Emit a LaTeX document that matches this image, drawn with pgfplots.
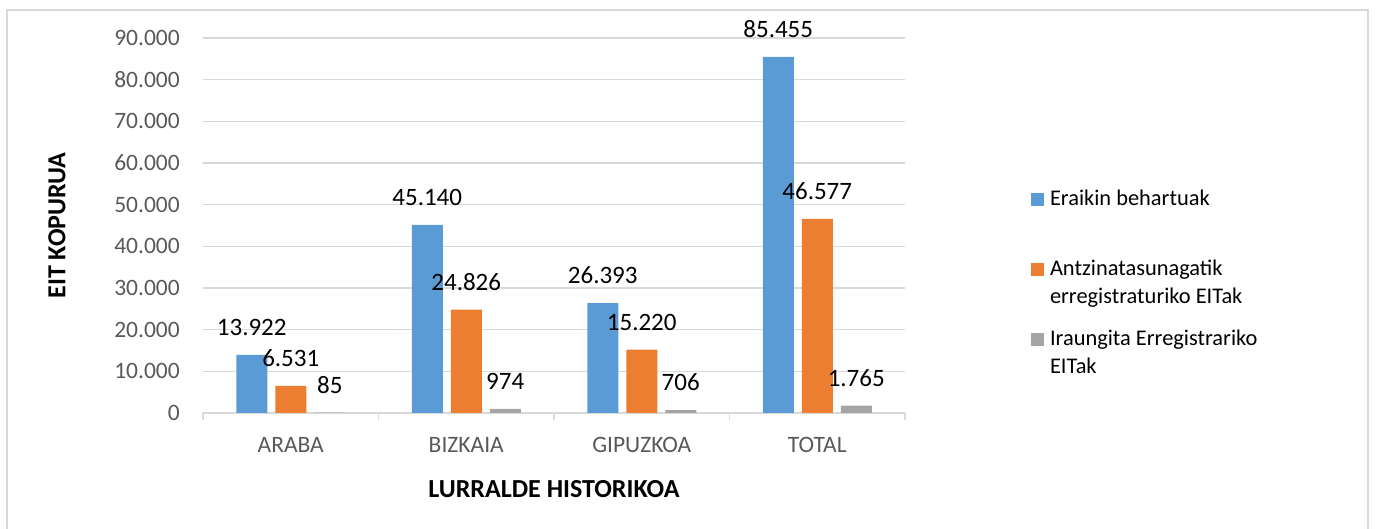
\documentclass[border=0pt]{standalone}
\usepackage{fontspec}
\setmainfont{Carlito}
\usepackage{pgfplots}
\pgfplotsset{compat=1.18}
\definecolor{cblue}{HTML}{5B9BD5}
\definecolor{corange}{HTML}{ED7D31}
\definecolor{cgray}{HTML}{A5A5A5}
\definecolor{tickgray}{HTML}{595959}
\definecolor{gridgray}{HTML}{D9D9D9}
\begin{document}
\begin{tikzpicture}[x=1pt,y=1pt]
\path[use as bounding box] (0,0) rectangle (1376,529);
\draw[gridgray, line width=1.5pt] (7,-5) -- (7,519) -- (1368,519) -- (1368,-5);
\begin{axis}[
  at={(203pt,116pt)}, anchor=south west,
  scale only axis, width=702pt, height=375pt,
  ybar=8pt, bar width=31pt,
  xmin=-0.5, xmax=3.5, ymin=0, ymax=90000,
  xtick={0,1,2,3},
  xticklabels={ARABA,BIZKAIA,GIPUZKOA,TOTAL},
  minor xtick={-0.5,0.5,1.5,2.5,3.5},
  ytick={0,10000,...,90000},
  major tick length=0pt, minor tick length=7pt, tick align=outside,
  axis x line*=bottom, axis y line*=left,
  y axis line style={draw=none},
  x axis line style={draw=gridgray, line width=1.5pt},
  minor x tick style={draw=gridgray, line width=1.5pt},
  ytick style={draw=none},
  ymajorgrids, grid style={draw=gridgray, line width=1.5pt},
  clip=false,
  /pgf/number format/.cd, 1000 sep={.}, assume math mode=true, /pgfplots/.cd,
  scaled y ticks=false,
  yticklabel style={font=\fontsize{23.5}{28}\selectfont, text=tickgray, inner sep=0pt, xshift=-23pt},
  xticklabel style={font=\fontsize{23.5}{28}\selectfont, text=tickgray, inner sep=0pt, anchor=north, yshift=-24pt},
  nodes near coords,
  nodes near coords style={font=\fontsize{25}{30}\selectfont, text=black, anchor=south, inner sep=0pt, yshift=19pt},
  xlabel={\textbf{LURRALDE HISTORIKOA}},
  xlabel style={font=\fontsize{26}{30}\selectfont, at={(axis description cs:0.5,-0.2027)}, anchor=center},
  ylabel={\textbf{EIT KOPURUA}},
  ylabel style={font=\fontsize{26}{30}\selectfont, at={(axis description cs:-0.208,0.5)}, anchor=center},
  legend style={at={(axis description cs:1.1795,0.5947)}, anchor=north west, draw=none, inner sep=0pt, outer sep=0pt,
    font=\fontsize{22.4}{28}\selectfont, row sep=53pt, column sep=6pt,
    nodes={inner sep=0pt, outer sep=0pt}},
  legend cell align=left,
  legend image code/.code={\fill[#1,draw=none] (0pt,-7pt) rectangle (13pt,6pt);},
]
\addplot[fill=cblue, draw=none] coordinates {(0,13922) (1,45140) (2,26393) (3,85455)};
\addplot[fill=corange, draw=none] coordinates {(0,6531) (1,24826) (2,15220) (3,46577)};
\addplot[fill=cgray, draw=none] coordinates {(0,85) (1,974) (2,706) (3,1765)};
\addlegendentry{\parbox[t]{300pt}{Eraikin behartuak}}
\addlegendentry{\parbox[t]{300pt}{Antzinatasunagatik\\erregistraturiko EITak}}
\addlegendentry{\parbox[t]{300pt}{Iraungita Erregistrariko\\EITak}}
\end{axis}
\end{tikzpicture}
\end{document}
